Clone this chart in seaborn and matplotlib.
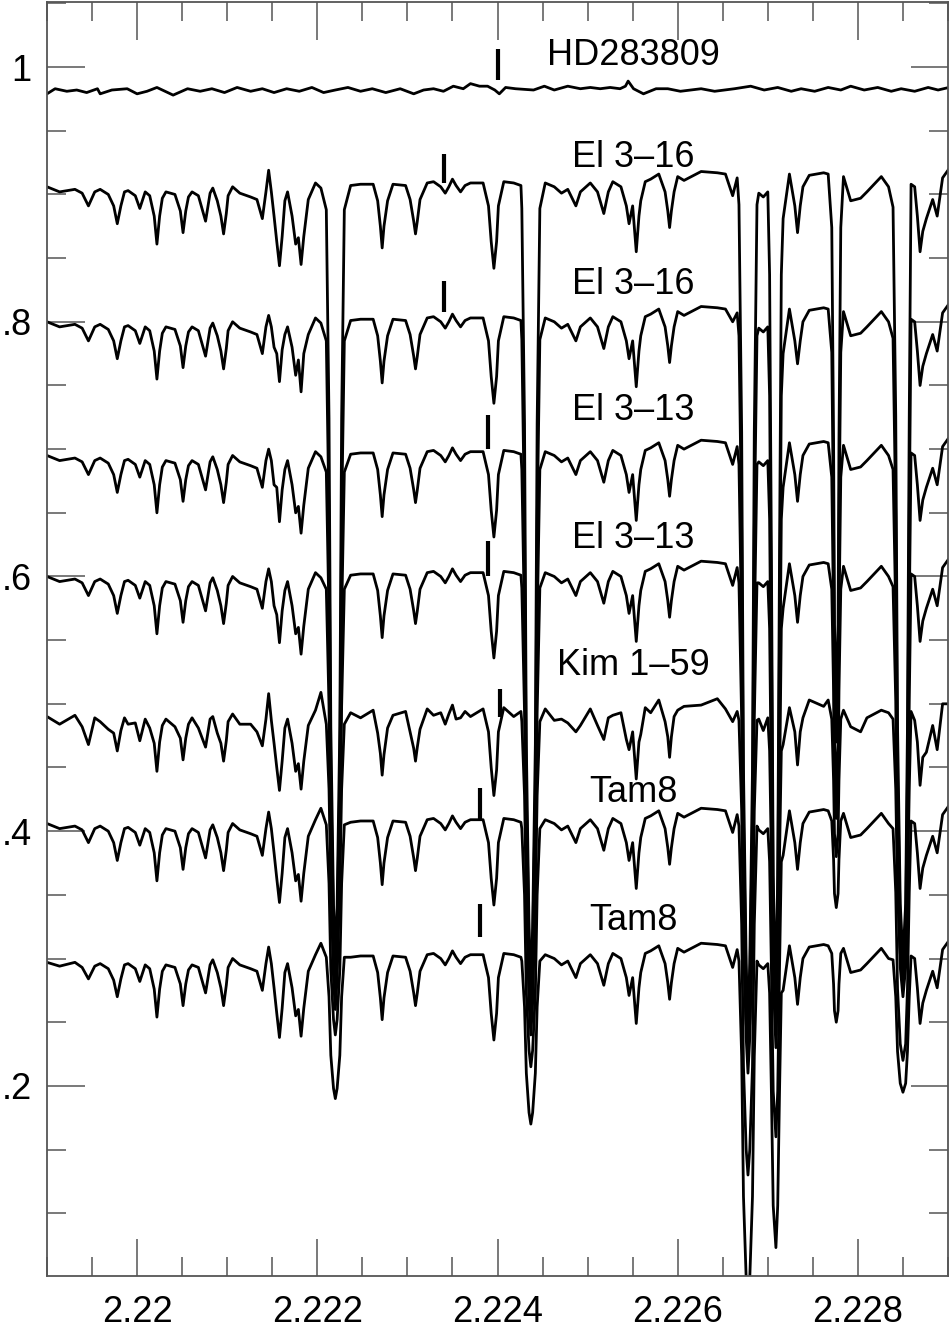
import pandas as pd
import seaborn as sns
import matplotlib.pyplot as plt
from matplotlib.ticker import MultipleLocator, FixedLocator, FixedFormatter

# wavelength grid (micron) shared by the seven stacked target spectra
wave = [
    2.21900, 2.21914, 2.21931, 2.21939, 2.21946, 2.21953, 2.21959, 2.21968, 2.21974, 2.21978,
    2.21982, 2.21986, 2.21990, 2.21998, 2.22003, 2.22009, 2.22014, 2.22019, 2.22022, 2.22025,
    2.22028, 2.22032, 2.22042, 2.22048, 2.22051, 2.22054, 2.22057, 2.22061, 2.22068, 2.22076,
    2.22081, 2.22084, 2.22089, 2.22093, 2.22096, 2.22099, 2.22101, 2.22106, 2.22114, 2.22126,
    2.22133, 2.22139, 2.22143, 2.22146, 2.22149, 2.22152, 2.22155, 2.22158, 2.22161, 2.22164,
    2.22167, 2.22172, 2.22176, 2.22179, 2.22182, 2.22185, 2.22190, 2.22198, 2.22204, 2.22210,
    2.22213, 2.22215, 2.22218, 2.22220, 2.22222, 2.22225, 2.22227, 2.22230, 2.22237, 2.22248,
    2.22262, 2.22267, 2.22270, 2.22272, 2.22274, 2.22278, 2.22284, 2.22298, 2.22303, 2.22307,
    2.22309, 2.22311, 2.22314, 2.22322, 2.22329, 2.22337, 2.22342, 2.22346, 2.22350, 2.22354,
    2.22359, 2.22364, 2.22370, 2.22384, 2.22390, 2.22393, 2.22396, 2.22399, 2.22401, 2.22407,
    2.22418, 2.22426, 2.22427, 2.22430, 2.22432, 2.22435, 2.22437, 2.22439, 2.22442, 2.22444,
    2.22447, 2.22453, 2.22463, 2.22471, 2.22478, 2.22487, 2.22492, 2.22503, 2.22511, 2.22518,
    2.22523, 2.22528, 2.22537, 2.22543, 2.22546, 2.22550, 2.22554, 2.22557, 2.22559, 2.22564,
    2.22570, 2.22579, 2.22586, 2.22589, 2.22591, 2.22593, 2.22596, 2.22600, 2.22607, 2.22626,
    2.22644, 2.22653, 2.22661, 2.22666, 2.22668, 2.22671, 2.22673, 2.22676, 2.22678, 2.22680,
    2.22683, 2.22685, 2.22688, 2.22690, 2.22695, 2.22700, 2.22702, 2.22704, 2.22706, 2.22709,
    2.22711, 2.22713, 2.22715, 2.22717, 2.22724, 2.22730, 2.22733, 2.22736, 2.22739, 2.22746,
    2.22762, 2.22767, 2.22771, 2.22773, 2.22774, 2.22776, 2.22778, 2.22779, 2.22781, 2.22784,
    2.22792, 2.22803, 2.22810, 2.22826, 2.22834, 2.22839, 2.22842, 2.22844, 2.22847, 2.22850,
    2.22853, 2.22855, 2.22857, 2.22859, 2.22863, 2.22866, 2.22869, 2.22872, 2.22876, 2.22883,
    2.22888, 2.22894, 2.22901]

el316_a = [
    .906, .902, .904, .901, .891, .902, .904, .900, .891, .877,
    .891, .902, .903, .899, .889, .902, .899, .883, .861, .883,
    .897, .902, .900, .887, .870, .887, .898, .902, .899, .879,
    .901, .905, .895, .883, .869, .885, .899, .906, .901, .898,
    .896, .881, .902, .919, .902, .883, .863, .844, .867, .895,
    .902, .883, .861, .866, .845, .867, .896, .909, .905, .888,
    .724, .482, .342, .300, .342, .482, .724, .888, .907, .908,
    .908, .895, .875, .858, .875, .895, .908, .907, .896, .879,
    .869, .879, .896, .909, .910, .906, .901, .906, .912, .907,
    .902, .907, .909, .909, .891, .863, .842, .863, .891, .910,
    .909, .907, .889, .720, .468, .324, .280, .324, .468, .720,
    .889, .909, .906, .901, .904, .891, .902, .909, .902, .885,
    .902, .910, .906, .891, .877, .891, .855, .883, .895, .910,
    .912, .916, .902, .887, .874, .887, .902, .914, .911, .918,
    .917, .916, .899, .913, .892, .713, .449, .296, .250, .296,
    .449, .713, .892, .901, .898, .902, .837, .617, .365, .270,
    .365, .617, .837, .881, .916, .891, .870, .891, .906, .915,
    .917, .916, .874, .708, .562, .500, .562, .708, .874, .914,
    .895, .897, .902, .914, .906, .890, .726, .482, .343, .300,
    .343, .482, .726, .908, .906, .883, .855, .871, .881, .896,
    .883, .913, .920]

el316_b = [
    .800, .796, .798, .795, .785, .796, .798, .794, .785, .771,
    .785, .796, .797, .793, .783, .796, .793, .777, .755, .777,
    .791, .796, .794, .781, .764, .781, .792, .796, .793, .773,
    .795, .799, .789, .777, .763, .779, .793, .800, .795, .792,
    .790, .775, .796, .805, .796, .780, .775, .753, .778, .790,
    .796, .780, .758, .770, .745, .775, .790, .803, .799, .785,
    .647, .443, .326, .290, .326, .443, .647, .785, .801, .802,
    .802, .789, .769, .752, .769, .789, .802, .801, .790, .773,
    .763, .773, .790, .803, .804, .800, .795, .800, .806, .801,
    .796, .801, .803, .803, .785, .757, .736, .757, .785, .804,
    .803, .801, .786, .642, .430, .312, .270, .312, .430, .642,
    .786, .803, .800, .795, .798, .785, .796, .803, .796, .779,
    .796, .804, .800, .785, .771, .785, .749, .777, .789, .804,
    .806, .810, .796, .781, .768, .781, .796, .808, .805, .812,
    .811, .810, .800, .807, .789, .636, .410, .280, .240, .280,
    .410, .636, .789, .795, .792, .796, .742, .554, .340, .260,
    .340, .554, .742, .775, .810, .785, .767, .785, .800, .809,
    .811, .810, .776, .640, .521, .470, .521, .640, .776, .808,
    .789, .791, .796, .808, .800, .787, .648, .444, .326, .290,
    .326, .444, .648, .802, .800, .777, .750, .765, .775, .790,
    .777, .807, .814]

el313_a = [
    .695, .691, .693, .690, .680, .691, .693, .689, .680, .666,
    .680, .691, .692, .688, .678, .691, .688, .672, .650, .672,
    .686, .691, .689, .676, .659, .676, .687, .691, .688, .668,
    .690, .694, .684, .672, .658, .674, .688, .695, .690, .687,
    .685, .670, .691, .700, .691, .672, .670, .643, .668, .684,
    .691, .672, .650, .655, .634, .656, .685, .698, .694, .682,
    .568, .397, .300, .270, .300, .397, .568, .682, .696, .697,
    .697, .684, .664, .647, .664, .684, .697, .696, .685, .668,
    .658, .668, .685, .698, .699, .695, .690, .695, .701, .696,
    .691, .696, .698, .698, .680, .652, .631, .652, .680, .699,
    .698, .696, .684, .563, .384, .281, .250, .281, .384, .563,
    .684, .698, .695, .690, .693, .680, .691, .698, .691, .674,
    .691, .699, .695, .680, .666, .680, .644, .672, .684, .699,
    .701, .705, .691, .676, .663, .676, .691, .703, .700, .707,
    .706, .705, .688, .702, .688, .557, .365, .254, .220, .254,
    .365, .557, .688, .690, .687, .691, .645, .488, .308, .240,
    .308, .488, .645, .670, .705, .680, .659, .680, .695, .704,
    .706, .705, .678, .568, .471, .430, .471, .568, .678, .703,
    .684, .686, .691, .703, .695, .684, .572, .405, .309, .280,
    .309, .405, .572, .697, .695, .672, .644, .660, .670, .685,
    .672, .702, .709]

el313_b = [
    .600, .596, .598, .595, .585, .596, .598, .594, .585, .571,
    .585, .596, .597, .593, .583, .596, .593, .577, .555, .577,
    .591, .596, .594, .581, .564, .581, .592, .596, .593, .573,
    .595, .599, .589, .577, .563, .579, .593, .600, .595, .592,
    .590, .575, .596, .606, .596, .577, .570, .548, .573, .589,
    .596, .577, .555, .560, .539, .561, .590, .603, .599, .590,
    .498, .362, .284, .260, .284, .362, .498, .590, .601, .602,
    .602, .589, .569, .552, .569, .589, .602, .601, .590, .573,
    .563, .573, .590, .603, .604, .600, .595, .600, .606, .601,
    .596, .601, .603, .603, .585, .557, .536, .557, .585, .604,
    .603, .601, .591, .493, .349, .265, .240, .265, .349, .493,
    .591, .603, .600, .595, .598, .585, .596, .603, .596, .579,
    .596, .604, .600, .585, .571, .585, .549, .577, .589, .604,
    .606, .610, .596, .581, .568, .581, .596, .608, .605, .612,
    .611, .610, .593, .607, .595, .488, .329, .238, .210, .238,
    .329, .488, .595, .595, .592, .596, .559, .431, .285, .230,
    .285, .431, .559, .575, .610, .585, .564, .585, .600, .609,
    .611, .610, .590, .510, .440, .410, .440, .510, .590, .608,
    .589, .591, .596, .608, .600, .592, .502, .370, .293, .270,
    .293, .370, .502, .602, .600, .577, .549, .565, .575, .590,
    .577, .607, .614]

kim159 = [
    .490, .484, .491, .482, .468, .489, .486, .480, .477, .463,
    .479, .489, .484, .485, .471, .488, .481, .469, .447, .470,
    .483, .488, .482, .473, .456, .473, .484, .489, .481, .466,
    .488, .490, .477, .469, .455, .471, .486, .492, .484, .484,
    .478, .467, .488, .508, .487, .469, .450, .432, .455, .481,
    .488, .469, .447, .453, .433, .455, .483, .495, .509, .484,
    .433, .357, .313, .300, .313, .357, .433, .484, .493, .489,
    .495, .477, .461, .444, .460, .481, .491, .494, .478, .465,
    .455, .466, .480, .496, .491, .493, .484, .492, .499, .488,
    .489, .494, .490, .496, .478, .450, .428, .448, .478, .497,
    .490, .494, .486, .428, .344, .295, .280, .295, .344, .428,
    .486, .496, .487, .488, .485, .478, .483, .496, .483, .472,
    .489, .491, .493, .472, .464, .478, .441, .470, .476, .497,
    .493, .503, .486, .474, .458, .474, .490, .495, .498, .499,
    .504, .496, .486, .494, .487, .416, .310, .249, .230, .249,
    .310, .416, .487, .488, .479, .489, .463, .380, .286, .250,
    .286, .380, .463, .468, .497, .478, .452, .478, .489, .503,
    .498, .503, .488, .440, .398, .380, .398, .440, .488, .495,
    .482, .478, .489, .495, .493, .488, .433, .351, .304, .290,
    .304, .351, .433, .494, .487, .470, .436, .458, .462, .483,
    .464, .500, .500]

tam8_a = [
    .406, .402, .404, .401, .391, .402, .404, .400, .391, .377,
    .391, .402, .403, .399, .389, .402, .399, .383, .361, .383,
    .397, .402, .400, .387, .370, .387, .398, .402, .399, .379,
    .401, .405, .395, .383, .369, .385, .399, .406, .401, .398,
    .396, .381, .402, .415, .402, .383, .363, .344, .367, .395,
    .402, .383, .361, .366, .345, .367, .396, .409, .418, .405,
    .359, .291, .252, .240, .252, .291, .359, .405, .407, .408,
    .408, .395, .375, .358, .375, .395, .408, .407, .396, .379,
    .369, .379, .396, .409, .410, .406, .401, .406, .412, .407,
    .402, .407, .409, .409, .391, .363, .342, .363, .391, .410,
    .409, .407, .402, .350, .273, .228, .215, .228, .273, .350,
    .402, .409, .406, .401, .404, .391, .402, .409, .402, .385,
    .402, .410, .406, .391, .377, .391, .355, .383, .395, .410,
    .412, .416, .402, .387, .374, .387, .402, .414, .411, .418,
    .417, .416, .399, .413, .404, .327, .215, .150, .130, .150,
    .215, .327, .404, .401, .398, .402, .376, .292, .196, .160,
    .196, .292, .376, .381, .416, .391, .370, .391, .406, .415,
    .417, .416, .408, .378, .351, .340, .351, .378, .408, .414,
    .395, .397, .402, .414, .406, .402, .352, .276, .233, .220,
    .233, .276, .352, .408, .406, .383, .355, .371, .381, .396,
    .383, .413, .420]

tam8_b = [
    .297, .294, .297, .293, .284, .294, .296, .292, .283, .270,
    .284, .295, .296, .292, .282, .295, .292, .276, .254, .276,
    .290, .295, .293, .280, .263, .280, .291, .295, .293, .273,
    .295, .299, .289, .277, .263, .279, .293, .300, .295, .292,
    .290, .275, .296, .309, .296, .277, .257, .238, .261, .289,
    .296, .277, .255, .260, .239, .261, .290, .303, .312, .301,
    .270, .224, .198, .190, .198, .224, .270, .301, .301, .302,
    .302, .289, .269, .252, .269, .289, .302, .301, .290, .273,
    .263, .273, .290, .303, .304, .300, .295, .300, .306, .301,
    .296, .301, .303, .303, .285, .257, .236, .257, .285, .304,
    .303, .301, .298, .262, .210, .179, .170, .179, .210, .262,
    .298, .303, .300, .295, .298, .285, .296, .303, .296, .279,
    .296, .304, .300, .285, .271, .285, .249, .277, .289, .304,
    .306, .310, .296, .281, .268, .281, .296, .308, .305, .312,
    .311, .310, .293, .307, .298, .223, .113, .049, .030, .049,
    .113, .223, .298, .295, .292, .296, .273, .195, .106, .073,
    .106, .195, .273, .275, .310, .285, .264, .285, .300, .309,
    .311, .310, .304, .280, .259, .250, .259, .280, .304, .308,
    .289, .291, .296, .308, .300, .299, .270, .227, .202, .195,
    .202, .227, .270, .302, .300, .277, .249, .265, .275, .290,
    .277, .307, .314]

# comparison star, its own sampling
hd_wave = [
    2.21900, 2.21909, 2.21922, 2.21933, 2.21944, 2.21956, 2.21959, 2.21972, 2.21989, 2.22000,
    2.22011, 2.22022, 2.22040, 2.22056, 2.22070, 2.22083, 2.22097, 2.22111, 2.22126, 2.22139,
    2.22152, 2.22166, 2.22180, 2.22194, 2.22207, 2.22220, 2.22234, 2.22248, 2.22261, 2.22276,
    2.22292, 2.22307, 2.22318, 2.22329, 2.22340, 2.22351, 2.22362, 2.22370, 2.22380, 2.22389,
    2.22397, 2.22402, 2.22409, 2.22420, 2.22440, 2.22452, 2.22463, 2.22478, 2.22492, 2.22503,
    2.22514, 2.22525, 2.22536, 2.22542, 2.22545, 2.22551, 2.22562, 2.22576, 2.22589, 2.22603,
    2.22626, 2.22641, 2.22663, 2.22681, 2.22696, 2.22711, 2.22726, 2.22737, 2.22752, 2.22767,
    2.22781, 2.22792, 2.22807, 2.22822, 2.22837, 2.22848, 2.22863, 2.22878, 2.22889, 2.22901]
hd283809 = [
    .979, .983, .981, .982, .980, .983, .979, .982, .983, .979,
    .981, .984, .978, .983, .981, .983, .980, .984, .981, .983,
    .980, .983, .981, .984, .980, .982, .984, .981, .983, .980,
    .983, .979, .982, .983, .981, .985, .983, .987, .985, .985,
    .982, .979, .984, .983, .982, .985, .982, .985, .983, .984,
    .983, .984, .983, .985, .989, .983, .979, .983, .983, .981,
    .983, .981, .983, .985, .982, .984, .981, .983, .981, .984,
    .982, .985, .982, .984, .981, .983, .981, .984, .982, .984]

labels = ['HD283809', 'El 3–16', 'El 3–16', 'El 3–13', 'El 3–13', 'Kim 1–59', 'Tam8', 'Tam8']
label_y = [1.009, 0.929, 0.829, 0.730, 0.630, 0.530, 0.430, 0.330]
mark_wave = [2.22401, 2.22341, 2.22341, 2.22389, 2.22389, 2.22403, 2.22381, 2.22381]
mark_top = [1.014, 0.932, 0.832, 0.727, 0.628, 0.512, 0.434, 0.343]
mark_bot = [0.990, 0.909, 0.808, 0.700, 0.600, 0.490, 0.408, 0.317]

series = [('hd', hd_wave, hd283809), ('e16a', wave, el316_a), ('e16b', wave, el316_b),
          ('e13a', wave, el313_a), ('e13b', wave, el313_b), ('kim', wave, kim159),
          ('t8a', wave, tam8_a), ('t8b', wave, tam8_b)]
frames = []
for key, w, f in series:
    assert len(w) == len(f), (key, len(w), len(f))
    frames.append(pd.DataFrame({'spec': key, 'wave': w, 'flux': f}))
df = pd.concat(frames, ignore_index=True)

sns.set_theme(style='ticks')
plt.rcParams['font.family'] = ['Liberation Sans', 'DejaVu Sans']
plt.rcParams['text.color'] = 'black'

fig = plt.figure(figsize=(9.5, 13.3), dpi=100)
ax = fig.add_axes([47 / 950, 1 - 1276 / 1330, 901 / 950, 1274.5 / 1330])
sns.lineplot(data=df, x='wave', y='flux', units='spec', estimator=None, sort=False,
             color='black', lw=2.0, ax=ax, legend=False, solid_joinstyle='round')

ax.vlines(mark_wave, mark_bot, mark_top, color='black', lw=3)
for nm, yy in zip(labels, label_y):
    ax.text(2.22551, yy, nm, ha='center', va='center', fontsize=26, color='black')

ax.set_xlim(2.219, 2.229)
ax.set_ylim(0.0507, 1.0515)
ax.xaxis.set_major_locator(FixedLocator([2.22, 2.222, 2.224, 2.226, 2.228]))
ax.xaxis.set_major_formatter(FixedFormatter(['2.22', '2.222', '2.224', '2.226', '2.228']))
ax.xaxis.set_minor_locator(MultipleLocator(0.0005))
ax.yaxis.set_major_locator(FixedLocator([0.2, 0.4, 0.6, 0.8, 1.0]))
ax.yaxis.set_major_formatter(FixedFormatter(['.2', '.4', '.6', '.8', '1']))
ax.yaxis.set_minor_locator(MultipleLocator(0.05))
ax.tick_params(which='both', direction='in', top=True, right=True, color='#555555',
               width=1.1, labelsize=26, labelcolor='black')
ax.tick_params(which='major', length=27)
ax.tick_params(which='minor', length=14)
ax.tick_params(axis='x', which='major', pad=14)
ax.tick_params(axis='y', which='major', pad=11)
for s in ax.spines.values():
    s.set_color('#555555')
    s.set_linewidth(1.3)
ax.set_xlabel('')
ax.set_ylabel('')

fig.savefig('out.png', dpi=100)
